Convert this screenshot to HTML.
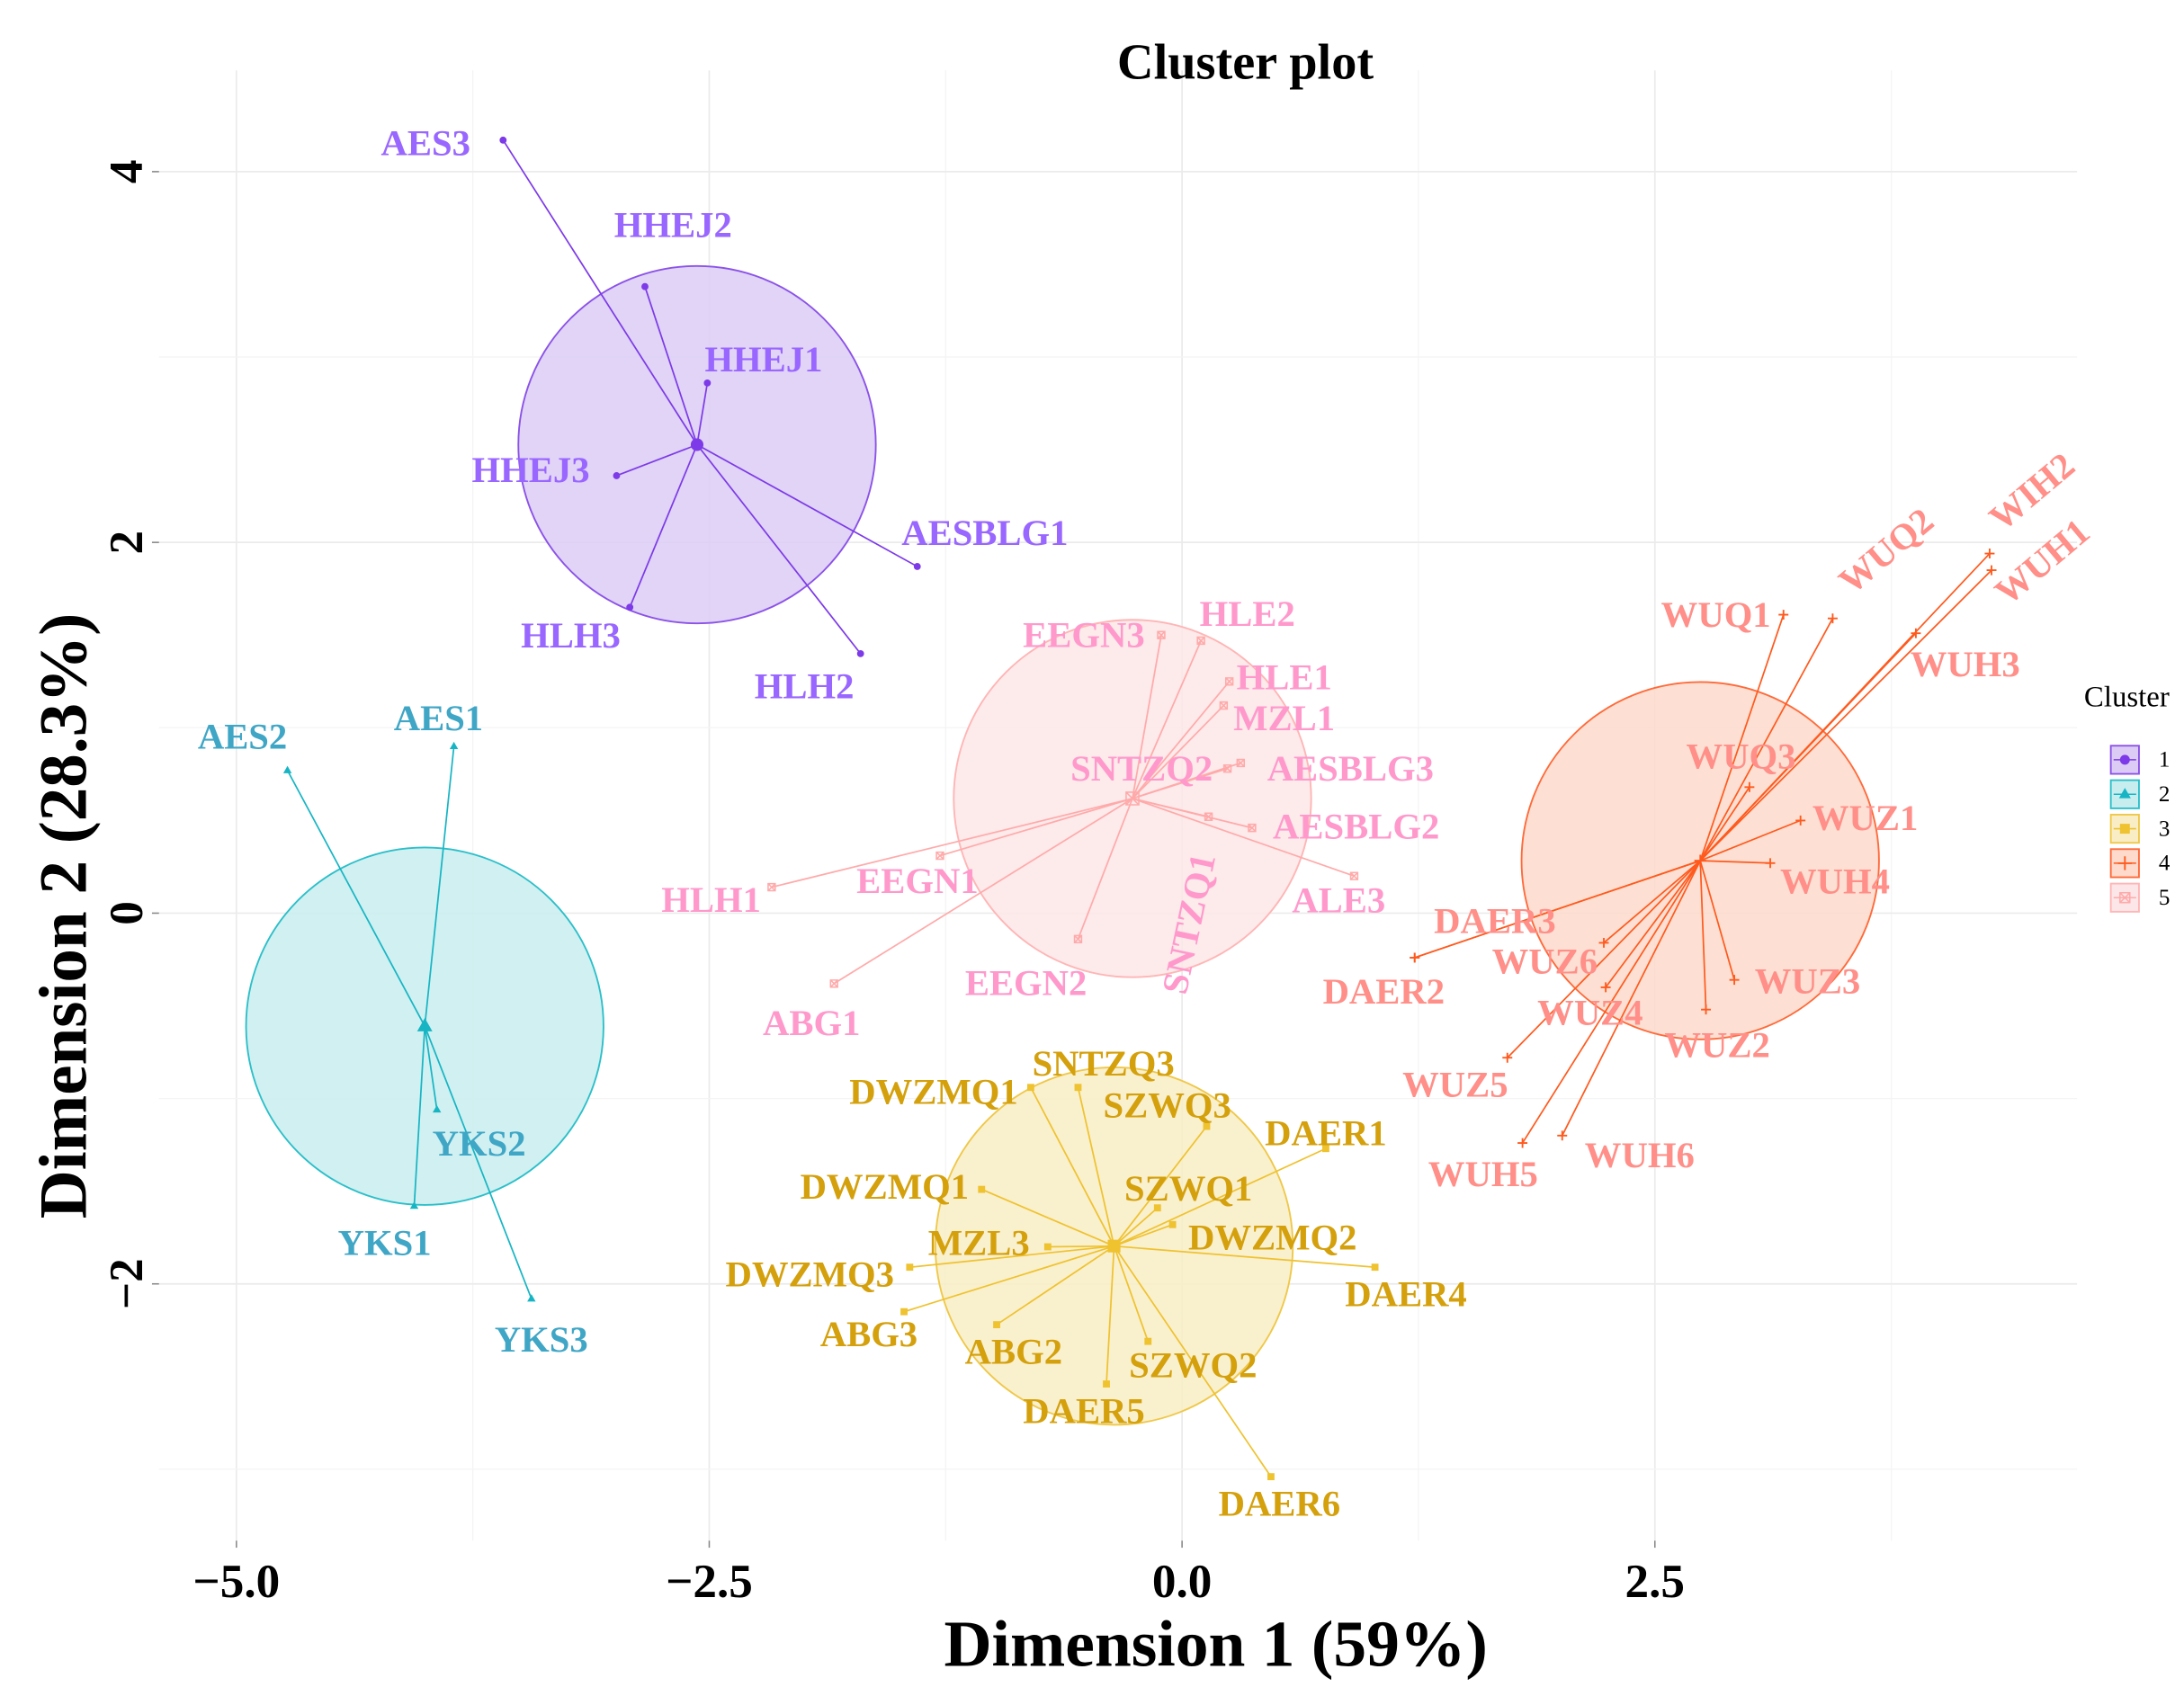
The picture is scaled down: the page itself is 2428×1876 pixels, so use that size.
<!DOCTYPE html>
<html><head><meta charset="utf-8"><style>
html,body{margin:0;padding:0;background:#fff;}
svg{display:block;font-family:"Liberation Serif",serif;}
</style></head><body>
<svg id="chart" width="2428" height="1876" viewBox="0 0 1552 1199" preserveAspectRatio="none" xmlns="http://www.w3.org/2000/svg">
<g id="grid"></g>
<g id="axes"></g>
<g id="marks"></g>
<text x="885" y="56" text-anchor="middle" font-weight="bold" font-size="36">Cluster plot</text>
<text x="864" y="1184" text-anchor="middle" font-weight="bold" font-size="47">Dimension 1 (59%)</text>
<text transform="translate(61,651) rotate(-90)" text-anchor="middle" font-weight="bold" font-size="48">Dimension 2 (28.3%)</text>
<g id="legend"></g>
</svg>
<script>
// ---- data (Dimension 1 / Dimension 2 coordinates) ----
const c1Names = ["AES3","HHEJ2","HHEJ1","HHEJ3","AESBLG1","HLH3","HLH2"];
const c1X = [-3.59,-2.84,-2.51,-2.99,-1.40,-2.92,-1.70];
const c1Y = [4.17,3.38,2.86,2.36,1.87,1.65,1.40];
const c2Names = ["AES2","AES1","YKS2","YKS1","YKS3"];
const c2X = [-4.73,-3.85,-3.94,-4.06,-3.44];
const c2Y = [0.77,0.90,-1.06,-1.58,-2.08];
const c3Names = ["SNTZQ3","DWZMQ1","SZWQ3","DAER1","DWZMQ1","SZWQ1","DWZMQ2","MZL3","DWZMQ3","DAER4","ABG3","ABG2","SZWQ2","DAER5","DAER6"];
const c3X = [-0.55,-0.80,0.13,0.76,-1.06,-0.13,-0.05,-0.71,-1.44,1.02,-1.47,-0.98,-0.18,-0.40,0.47];
const c3Y = [-0.94,-0.94,-1.15,-1.27,-1.49,-1.59,-1.68,-1.80,-1.91,-1.91,-2.15,-2.22,-2.31,-2.54,-3.04];
const c4Names = ["WIH2","WUH1","WUH3","WUQ2","WUQ1","WUQ3","WUZ1","WUH4","DAER3","WUZ6","WUZ4","WUZ3","WUZ2","WUZ5","WUH5","WUH6","DAER2"];
const c4X = [4.27,4.28,3.88,3.44,3.18,3.00,3.27,3.11,1.23,2.23,2.24,2.92,2.77,1.72,1.80,2.01,1.23];
const c4Y = [1.94,1.85,1.51,1.59,1.61,0.68,0.50,0.27,-0.24,-0.16,-0.40,-0.36,-0.52,-0.78,-1.24,-1.20,-0.24];
const c5Names = ["EEGN3","HLE2","HLE1","MZL1","AESBLG3","SNTZQ2","SNTZQ1","AESBLG2","ALE3","HLH1","EEGN1","EEGN2","ABG1"];
const c5X = [-0.11,0.10,0.25,0.22,0.31,0.24,0.14,0.37,0.91,-2.17,-1.28,-0.55,-1.84];
const c5Y = [1.50,1.47,1.25,1.12,0.81,0.78,0.52,0.46,0.20,0.14,0.31,-0.14,-0.38];
const xTicks = [-5.0,-2.5,0.0,2.5];
const xTickLabels = ["\u22125.0","\u22122.5","0.0","2.5"];
const yTicks = [-2,0,2,4];
const yTickLabels = ["\u22122","0","2","4"];
const legendLabels = ["1","2","3","4","5"];

// ---- layout (not data) ----
const c1Off=[[-55,2,0],[20,-44,0],[40,-17,0],[-61,-4,0],[48,-24,0],[-42,20,0],[-40,23,0]];
const c2Off=[[-32,-24,0],[-11,-20,0],[30,24,0],[-21,26,0],[7,29,0]];
const c3Off=[[18,-17,0],[-69,3,0],[-28,-15,0],[0,-11,0],[-69,-2,0],[22,-14,0],[71,9,0],[-49,-3,0],[-71,5,0],[22,19,0],[-25,16,0],[12,19,0],[32,17,0],[-16,19,0],[6,19,0]];
const c4Off=[[30,-44,-40],[36,-6,-40],[35,22,0],[38,-48,-40],[-48,0,0],[-6,-22,0],[46,-2,0],[46,13,0],[57,-26,0],[-42,13,0],[-11,18,0],[52,1,0],[8,25,0],[-37,19,0],[-28,22,0],[55,14,0],[-22,24,0]];
const c5Off=[[-55,0,0],[33,-19,0],[39,-3,0],[43,9,0],[78,4,0],[-61,0,0],[-14,76,-78],[74,-1,0],[-11,17,0],[-43,9,0],[-16,18,0],[-37,31,0],[-16,28,0]];

const PX={l:113,r:1476,t:50,b:1095};
function sx(v){return 840+v*134.4;}
function sy(v){return 649-v*131.75;}
const NS="http://www.w3.org/2000/svg";
function mk(tag,attrs,parent){const e=document.createElementNS(NS,tag);for(const k in attrs)e.setAttribute(k,attrs[k]);parent.appendChild(e);return e;}

const grid=document.getElementById('grid');
const axes=document.getElementById('axes');
const marks=document.getElementById('marks');
const legend=document.getElementById('legend');

for(let i=0;i<xTicks.length;i++){
  const l=mk('line',{x1:sx(xTicks[i]),x2:sx(xTicks[i]),y1:PX.t,y2:PX.b,stroke:'#ebebeb','stroke-width':1.1},grid);
  
  
  const m=mk('line',{x1:sx(xTicks[i]+1.25),x2:sx(xTicks[i]+1.25),y1:PX.t,y2:PX.b,stroke:'#f4f4f4','stroke-width':0.8},grid);
  
  
  const t=mk('line',{x1:sx(xTicks[i]),x2:sx(xTicks[i]),y1:PX.b,y2:PX.b+5,stroke:'#888','stroke-width':1},axes);
  
  
  const tx=mk('text',{x:sx(xTicks[i]),y:1135,'text-anchor':'middle','font-weight':'bold','font-size':34},axes);
  tx.textContent=xTickLabels[i];
  
  
}
for(let i=0;i<yTicks.length;i++){
  const l=mk('line',{x1:PX.l,x2:PX.r,y1:sy(yTicks[i]),y2:sy(yTicks[i]),stroke:'#ebebeb','stroke-width':1.1},grid);
  
  
  const m=mk('line',{x1:PX.l,x2:PX.r,y1:sy(yTicks[i]-1),y2:sy(yTicks[i]-1),stroke:'#f4f4f4','stroke-width':0.8},grid);
  
  
  const t=mk('line',{x1:PX.l-5,x2:PX.l,y1:sy(yTicks[i]),y2:sy(yTicks[i]),stroke:'#888','stroke-width':1},axes);
  
  
  const tx=mk('text',{transform:`translate(101,${sy(yTicks[i])}) rotate(-90)`,'text-anchor':'middle','font-weight':'bold','font-size':34},axes);
  tx.textContent=yTickLabels[i];
  
  
}

const clusters=[
 {names:c1Names,xs:c1X,ys:c1Y,off:c1Off,line:'#7D3AE8',lab:'#9966FF',fill:'#DCCCF5',stroke:'#8B52E8',shape:'circle'},
 {names:c2Names,xs:c2X,ys:c2Y,off:c2Off,line:'#17B5C4',lab:'#3FA6C6',fill:'#C8EDEF',stroke:'#2CBFC9',shape:'triangle'},
 {names:c3Names,xs:c3X,ys:c3Y,off:c3Off,line:'#EFC22F',lab:'#D4A00C',fill:'#F8EDC4',stroke:'#EFC849',shape:'square'},
 {names:c4Names,xs:c4X,ys:c4Y,off:c4Off,line:'#FF5A1E',lab:'#FF8F88',fill:'#FDDACB',stroke:'#FF6A3A',shape:'plus'},
 {names:c5Names,xs:c5X,ys:c5Y,off:c5Off,line:'#FFAAAA',lab:'#FF99CC',fill:'#FDE6E8',stroke:'#FFB5B5',shape:'xsquare'}
];
function shape(g,type,x,y,s,col){
  let e;
  if(type==='circle') e=mk('circle',{cx:x,cy:y,r:s,fill:col},g);
  else if(type==='triangle') e=mk('polygon',{points:`${x},${y-s*1.3} ${x-s*1.2},${y+s*0.8} ${x+s*1.2},${y+s*0.8}`,fill:col},g);
  else if(type==='square') e=mk('rect',{x:x-s,y:y-s,width:2*s,height:2*s,fill:col},g);
  else if(type==='plus') e=mk('path',{d:`M${x-s*1.4},${y}H${x+s*1.4}M${x},${y-s*1.4}V${y+s*1.4}`,stroke:col,'stroke-width':1.2,fill:'none'},g);
  else e=mk('path',{d:`M${x-s},${y-s}h${2*s}v${2*s}h${-2*s}zM${x-s},${y-s}L${x+s},${y+s}M${x+s},${y-s}L${x-s},${y+s}`,stroke:col,'stroke-width':1,fill:'none'},g);
  return e;
}
clusters.forEach((c,ci)=>{
  const g=mk('g',{},marks);
  
  
  const n=c.xs.length;
  const cx=c.xs.reduce((a,b)=>a+b,0)/n, cy=c.ys.reduce((a,b)=>a+b,0)/n;
  const circ=mk('circle',{cx:sx(cx),cy:sy(cy),r:127,fill:c.fill,'fill-opacity':0.85,stroke:c.stroke,'stroke-width':1.2},g);
  
  
  for(let i=0;i<n;i++){
    const ln=mk('line',{x1:sx(cx),y1:sy(cy),x2:sx(c.xs[i]),y2:sy(c.ys[i]),stroke:c.line,'stroke-width':1.1},g);
    
    
  }
  for(let i=0;i<n;i++){
    const p=shape(g,c.shape,sx(c.xs[i]),sy(c.ys[i]),2.5,c.line);
    
    
  }
  const ctr=shape(g,c.shape,sx(cx),sy(cy),c.shape==='plus'?3:4.5,c.line);
  
  
  for(let i=0;i<n;i++){
    const o=c.off[i];
    const lx=sx(c.xs[i])+o[0], ly=sy(c.ys[i])+o[1];
    const t=mk('text',{transform:`translate(${lx},${ly}) rotate(${o[2]})`,'text-anchor':'middle','dominant-baseline':'central','font-weight':'bold','font-size':26,fill:c.lab},g);
    t.textContent=c.names[i];
    
    
  }
});

const lt=mk('text',{x:1481,y:502,'font-size':21},legend);
lt.textContent='Cluster';


clusters.forEach((c,ci)=>{
  const y=530+ci*24.5;
  const g=mk('g',{},legend);
  
  
  mk('rect',{x:1500,y:y,width:20,height:20,fill:c.fill,stroke:c.stroke,'stroke-width':1.2},g);
  mk('line',{x1:1502,x2:1518,y1:y+10,y2:y+10,stroke:c.line,'stroke-width':1},g);
  shape(g,c.shape,1510,y+10,3.5,c.line);
  const t=mk('text',{x:1534,y:y+15,'font-size':16},g);
  t.textContent=legendLabels[ci];
});
</script>
</body></html>
